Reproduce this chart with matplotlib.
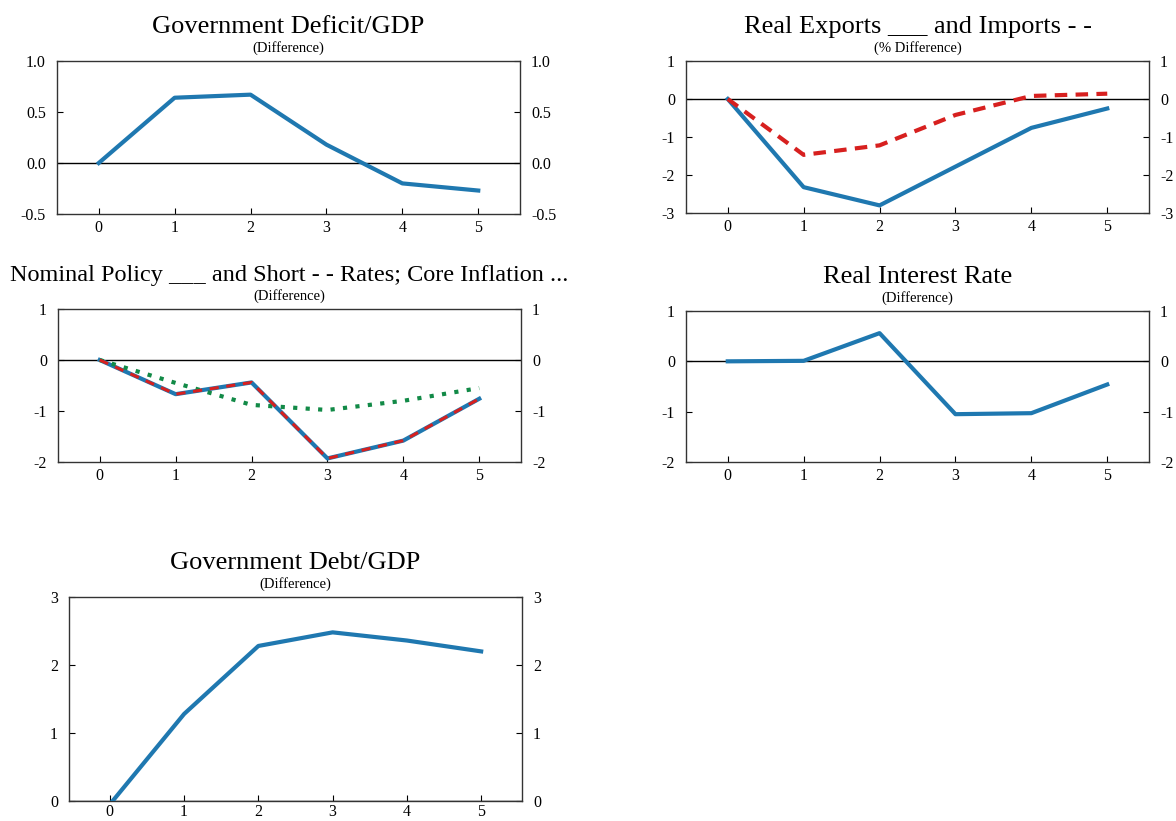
import matplotlib.pyplot as plt
import numpy as np

plt.rcParams['font.family'] = ['Liberation Serif', 'DejaVu Serif']

W, H = 1176, 821

years = [0, 1, 2, 3, 4, 5]

# values
deficit = [0.0, 0.64, 0.67, 0.18, -0.20, -0.27]
exports = [0.0, -2.32, -2.80, -1.78, -0.76, -0.25]
imports = [0.0, -1.47, -1.22, -0.42, 0.08, 0.14]
policy_rate = [0.0, -0.67, -0.44, -1.93, -1.58, -0.76]
short_rate = [0.0, -0.67, -0.44, -1.93, -1.58, -0.76]
core_infl = [0.0, -0.45, -0.88, -0.98, -0.80, -0.55]
real_rate = [0.0, 0.01, 0.56, -1.05, -1.03, -0.46]
debt = [-0.05, 1.28, 2.28, 2.48, 2.36, 2.20]

BLUE = '#1f78b0'
RED = '#d7201f'
GREEN = '#128a47'


def make_ax(left, top, right, bottom):
    # pixel box -> figure fraction
    return fig.add_axes([left / W, 1 - bottom / H, (right - left) / W, (bottom - top) / H])


def style(ax, ylim, yticks, fmt, xpad=4):
    ax.set_xlim(-0.55, 5.55)
    ax.set_ylim(*ylim)
    ax.set_xticks(years)
    ax.set_yticks(yticks)
    ax.set_yticklabels([fmt % v for v in yticks])
    ax.axhline(0, color='black', lw=1.0, zorder=1)
    ax.tick_params(axis='both', direction='in', length=4, width=0.8, labelsize=11.5,
                   right=True, labelright=True)
    ax.tick_params(axis='y', pad=8)
    ax.tick_params(axis='x', pad=xpad)
    for s in ax.spines.values():
        s.set_linewidth(1.0)
        s.set_color('#333333')


def big_title(ax, title, sub, tsize=19):
    ax.annotate(title, xy=(0.5, 1.0), xycoords='axes fraction', xytext=(0, 16.5),
                textcoords='offset points', ha='center', va='bottom', fontsize=tsize)
    ax.annotate(sub, xy=(0.5, 1.0), xycoords='axes fraction', xytext=(0, 4.5),
                textcoords='offset points', ha='center', va='bottom', fontsize=10.5)


fig = plt.figure(figsize=(W / 100, H / 100), dpi=100)

# Government deficit
ax1 = make_ax(57, 61, 520, 214)
ax1.plot(years, deficit, color=BLUE, lw=3, zorder=3)
style(ax1, (-0.5, 1.0), [-0.5, 0.0, 0.5, 1.0], '%.1f')
big_title(ax1, 'Government Deficit/GDP', '(Difference)')

# Exports / imports
ax2 = make_ax(686, 61, 1149, 213)
ax2.plot(years, exports, color=BLUE, lw=3, zorder=3)
ax2.plot(years, imports, color=RED, lw=3, ls=(0, (3, 2)), zorder=4)
style(ax2, (-3, 1), [-3, -2, -1, 0, 1], '%d')
big_title(ax2, 'Real Exports ___ and Imports - -', '(% Difference)')

# Rates and inflation
ax3 = make_ax(58, 309, 521, 462)
ax3.plot(years, policy_rate, color=BLUE, lw=3, zorder=3)
ax3.plot(years, short_rate, color=RED, lw=2.2, ls=(0, (3, 2.5)), zorder=4)
ax3.plot(years, core_infl, color=GREEN, lw=3, ls=(0, (1, 2)), zorder=3)
style(ax3, (-2, 1), [-2, -1, 0, 1], '%d')
big_title(ax3, 'Nominal Policy ___ and Short - - Rates; Core Inflation ...', '(Difference)',
          tsize=17.5)

# Real interest rate
ax4 = make_ax(686, 311, 1149, 462)
ax4.plot(years, real_rate, color=BLUE, lw=3, zorder=3)
style(ax4, (-2, 1), [-2, -1, 0, 1], '%d')
big_title(ax4, 'Real Interest Rate', '(Difference)')

# Government debt
ax5 = make_ax(69, 597, 522, 801)
ax5.plot(years, debt, color=BLUE, lw=3, zorder=3)
style(ax5, (0, 3), [0, 1, 2, 3], '%d', xpad=2)
big_title(ax5, 'Government Debt/GDP', '(Difference)')

fig.savefig('out.png', dpi=100)
